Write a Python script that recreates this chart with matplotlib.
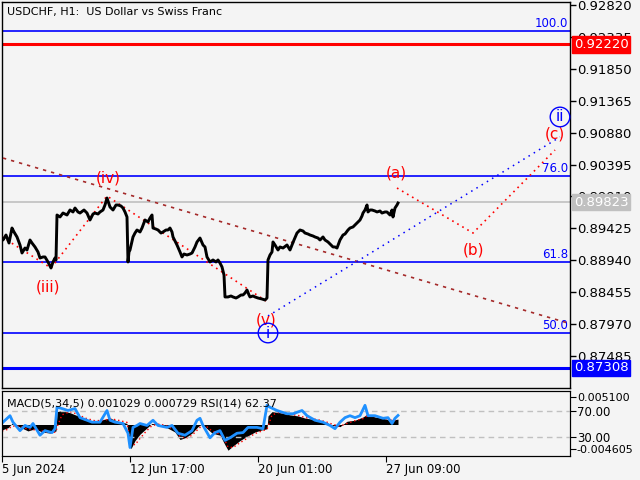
import matplotlib.pyplot as plt
import matplotlib.transforms as mtransforms

# H1 closes of USDCHF (hours from chart start, price)
hours = [2, 3, 6, 9, 12, 14, 17, 20, 22, 25, 27, 30, 32, 35, 38, 40, 43, 45, 48, 51,
         53, 55, 56, 57, 60, 63, 67, 70, 73, 75, 78, 80, 84, 87, 90, 93, 95, 98, 100, 103,
         105, 107, 110, 113, 116, 118, 121, 123, 125, 127, 128, 129, 130, 133, 135, 137, 140, 142, 145, 148,
         150, 152, 153, 156, 158, 161, 163, 166, 168, 170, 172, 173, 175, 177, 180, 182, 184, 187, 190, 192,
         195, 197, 200, 203, 205, 207, 210, 213, 216, 218, 220, 222, 224, 225, 228, 231, 233, 236, 238, 241,
         243, 245, 247, 249, 250, 253, 255, 258, 262, 265, 267, 268, 270, 272, 273, 275, 278, 280, 283, 287,
         290, 292, 294, 297, 300, 303, 305, 308, 310, 313, 315, 318, 320, 323, 325, 328, 331, 333, 335, 337,
         340, 343, 345, 348, 350, 353, 355, 357, 360, 362, 363, 365, 367, 368, 370, 372, 375, 377, 380, 382,
         385, 387, 390, 392, 393, 395, 397, 398]
close = [0.89278, 0.89248, 0.89324, 0.89202, 0.89430, 0.89370, 0.89294, 0.89172, 0.89050, 0.89126,
         0.89096, 0.89248, 0.89202, 0.89142, 0.89066, 0.88974, 0.88990, 0.88990, 0.88914, 0.88822,
         0.88914, 0.88974, 0.88944, 0.89628, 0.89598, 0.89658, 0.89628, 0.89704, 0.89674, 0.89734,
         0.89674, 0.89658, 0.89704, 0.89658, 0.89552, 0.89643, 0.89658, 0.89643, 0.89674, 0.89704,
         0.89780, 0.89886, 0.89750, 0.89704, 0.89780, 0.89780, 0.89765, 0.89734, 0.89674, 0.89598,
         0.88914, 0.89066, 0.89096, 0.89294, 0.89354, 0.89400, 0.89370, 0.89430, 0.89552, 0.89522,
         0.89582, 0.89628, 0.89430, 0.89414, 0.89400, 0.89354, 0.89370, 0.89400, 0.89400, 0.89430,
         0.89370, 0.89294, 0.89233, 0.89172, 0.89066, 0.88990, 0.89035, 0.89020, 0.89035, 0.89050,
         0.89142, 0.89218, 0.89278, 0.89172, 0.89142, 0.88990, 0.88914, 0.88944, 0.88914, 0.88944,
         0.88898, 0.88838, 0.88716, 0.88382, 0.88382, 0.88397, 0.88382, 0.88366, 0.88382, 0.88412,
         0.88412, 0.88442, 0.88488, 0.88412, 0.88382, 0.88397, 0.88382, 0.88366, 0.88351, 0.88336,
         0.88366, 0.88944, 0.89020, 0.89066, 0.89218, 0.89172, 0.89096, 0.89142, 0.89126, 0.89172,
         0.89096, 0.89172, 0.89248, 0.89354, 0.89400, 0.89385, 0.89354, 0.89339, 0.89324, 0.89309,
         0.89294, 0.89278, 0.89248, 0.89294, 0.89248, 0.89218, 0.89172, 0.89142, 0.89142, 0.89126,
         0.89248, 0.89324, 0.89339, 0.89400, 0.89430, 0.89446, 0.89476, 0.89506, 0.89552, 0.89613,
         0.89658, 0.89704, 0.89780, 0.89674, 0.89704, 0.89704, 0.89689, 0.89674, 0.89689, 0.89658,
         0.89674, 0.89674, 0.89628, 0.89704, 0.89598, 0.89734, 0.89780, 0.89810]

price_ticks = [0.92820, 0.92335, 0.91850, 0.91365, 0.90880, 0.90395,
               0.89910, 0.89425, 0.88940, 0.88455, 0.87970, 0.87485]

fib_levels = [0.92425, 0.90221, 0.88914, 0.87834]
fib_names = ['100.0', '76.0', '61.8', '50.0']
resistance = 0.92220
support = 0.87308
last_price = 0.89823

trend_hours = [3, 568]
trend_prices = [0.90494, 0.87986]
wave_hours = [2, 51, 107, 266]
wave_prices = [0.89294, 0.88822, 0.89917, 0.88321]
abc_hours = [397, 473, 555]
abc_prices = [0.90038, 0.89354, 0.90616]
ii_hours = [268, 560]
ii_prices = [0.88093, 0.90814]

wave_labels = ['(iii)', '(iv)', '(v)', '(a)', '(b)', '(c)']
wave_label_hours = [48, 108, 266, 396, 473, 555]
wave_label_prices = [0.88534, 0.90190, 0.88032, 0.90266, 0.89096, 0.90859]
circle_labels = ['i', 'ii']
circle_hours = [268, 560]
circle_prices = [0.87834, 0.91118]

# MACD(5,34,5) histogram + signal, RSI(14)
macd_hours = [2, 8, 12, 20, 28, 35, 42, 50, 56, 57, 62, 70, 78, 85, 95, 105, 110, 118, 127, 128,
              131, 135, 140, 146, 152, 160, 167, 175, 180, 186, 192, 198, 202, 206, 212, 220, 225, 228, 233, 240,
              247, 255, 262, 267, 268, 272, 280, 290, 298, 305, 312, 320, 326, 333, 340, 347, 355, 363, 367, 375,
              382, 390, 398]
macd_hist = [-0.0010, -0.0006, 0.0002, -0.0005, -0.0012, -0.0008, -0.0014, -0.0016, -0.0012, 0.0024,
             0.0026, 0.0022, 0.0016, 0.0008, 0.0006, 0.0010, 0.0012, 0.0006, 0.0002, -0.0030,
             -0.0045, -0.0030, -0.0018, -0.0008, 0.0002, 0.0000, -0.0006, -0.0014, -0.0028, -0.0024,
             -0.0016, -0.0004, 0.0001, -0.0006, -0.0016, -0.0020, -0.0038, -0.0048, -0.0040, -0.0030,
             -0.0022, -0.0014, -0.0010, -0.0008, 0.0016, 0.0024, 0.0022, 0.0018, 0.0016, 0.0012,
             0.0010, 0.0006, 0.0004, -0.0002, -0.0004, 0.0006, 0.0008, 0.0014, 0.0019, 0.0014,
             0.0012, 0.0008, 0.0010]
macd_signal = [-0.0012, -0.0009, -0.0003, -0.0003, -0.0009, -0.0010, -0.0012, -0.0015, -0.0014, -0.0005,
               0.0018, 0.0024, 0.0019, 0.0012, 0.0007, 0.0008, 0.0011, 0.0008, 0.0004, -0.0008,
               -0.0035, -0.0038, -0.0026, -0.0013, -0.0002, 0.0001, -0.0003, -0.0010, -0.0022, -0.0026,
               -0.0020, -0.0009, -0.0002, -0.0003, -0.0012, -0.0018, -0.0030, -0.0042, -0.0043, -0.0034,
               -0.0026, -0.0017, -0.0012, -0.0009, -0.0004, 0.0018, 0.0023, 0.0019, 0.0017, 0.0013,
               0.0011, 0.0008, 0.0005, 0.0000, -0.0003, 0.0002, 0.0007, 0.0011, 0.0016, 0.0015,
               0.0013, 0.0009, 0.0007]
rsi_hours = [3, 10, 13, 20, 25, 30, 33, 40, 45, 52, 55, 57, 62, 68, 75, 80, 87, 92, 100, 107,
             110, 115, 123, 128, 130, 133, 137, 140, 147, 153, 158, 167, 172, 178, 185, 192, 197, 200, 203, 210,
             215, 220, 225, 230, 237, 243, 248, 257, 263, 267, 270, 277, 287, 293, 302, 307, 315, 323, 330, 335,
             340, 345, 350, 355, 360, 365, 368, 375, 383, 388, 392, 395, 398]
rsi = [52, 62, 52, 39, 47, 44, 50, 32, 39, 36, 42, 75, 73, 70, 73, 59, 55, 52, 52, 70,
       55, 52, 50, 35, 13, 44, 47, 50, 47, 55, 47, 44, 47, 35, 32, 39, 55, 58, 47, 28,
       36, 39, 24, 28, 35, 36, 44, 44, 42, 78, 75, 70, 65, 65, 70, 62, 55, 52, 47, 42,
       52, 59, 62, 59, 62, 78, 62, 62, 58, 59, 50, 58, 62.37]

date_ticks = [2, 130, 258, 386]
date_labels = ['5 Jun 2024', '12 Jun 17:00', '20 Jun 01:00', '27 Jun 09:00']

BG = '#f4f4f4'
FS = 9.5
plt.rcParams['font.family'] = ['DejaVu Sans']

fig = plt.figure(figsize=(6.4, 4.8), dpi=100, facecolor=BG)
ax = fig.add_axes([2 / 640, 92 / 480, 568 / 640, 386 / 480], facecolor=BG)
ax.set_xlim(2, 570)
ax.set_ylim(0.86998, 0.92866)

for p, name in zip(fib_levels, fib_names):
    ax.axhline(p, color='#0000ff', lw=1.2, zorder=2)
    ax.text(568, p + 0.0002, name, color='#0000ff', fontsize=8.5, ha='right', va='bottom')
ax.axhline(resistance, color='#ff0000', lw=2.2, zorder=2)
ax.axhline(support, color='#0000ff', lw=2.2, zorder=2)
ax.axhline(last_price, color='#c0c0c0', lw=1.2, zorder=2)

ax.plot(trend_hours, trend_prices, color='#a52a2a', lw=1.2, ls=(0, (2, 3)), zorder=3)
ax.plot(wave_hours, wave_prices, color='#ff0000', lw=1.2, ls=(0, (1, 2.5)), zorder=3)
ax.plot(abc_hours, abc_prices, color='#ff0000', lw=1.2, ls=(0, (1, 2.5)), zorder=3)
ax.plot(ii_hours, ii_prices, color='#0000ff', lw=1.1, ls=(0, (1, 3)), zorder=3)
ax.plot(hours, close, color='black', lw=2.1, zorder=4)

for lab, h, p in zip(wave_labels, wave_label_hours, wave_label_prices):
    ax.text(h, p, lab, color='#ff0000', fontsize=11, ha='center', va='center', zorder=5)
for lab, h, p in zip(circle_labels, circle_hours, circle_prices):
    ax.text(h, p, lab, color='#0000ff', fontsize=11, ha='center', va='center', zorder=5,
            bbox=dict(boxstyle='circle,pad=0.15', fc='none', ec='#0000ff', lw=1))

ax.text(0.008, 0.974, 'USDCHF, H1:  US Dollar vs Swiss Franc', transform=ax.transAxes,
        fontsize=8, ha='left', va='center')

ax.yaxis.tick_right()
ax.set_yticks(price_ticks, [f'{t:.5f}' for t in price_ticks])
ax.tick_params(axis='y', direction='out', length=4, width=1, pad=1, labelsize=FS)
ax.set_xticks([])
for s in ax.spines.values():
    s.set_linewidth(1)

# price tags on the right scale
tr = mtransforms.blended_transform_factory(ax.transAxes, ax.transData)
for p, col in [(resistance, '#ff0000'), (last_price, '#c0c0c0'), (support, '#0000ff')]:
    ax.text(1.0 + 4 / 568, p, f'{p:.5f}', transform=tr, color='white', fontsize=FS,
            ha='left', va='center', clip_on=False, zorder=10,
            bbox=dict(boxstyle='square,pad=0.12', fc=col, ec=col))

# indicator panel
pax = fig.add_axes([2 / 640, 24 / 480, 568 / 640, 65 / 480], facecolor=BG)
pax.set_xlim(2, 570)
pax.set_ylim(-0.005877, 0.00625)
pax.fill_between(macd_hours, 0, macd_hist, color='black', lw=0)
pax.plot(macd_hours, macd_signal, color='#ff0000', lw=1, ls=(0, (1, 2)))
pax.set_xticks(date_ticks, date_labels)
pax.tick_params(axis='x', direction='out', length=4, pad=1, labelsize=8.5)
for t in pax.get_xticklabels():
    t.set_ha('left')

rax = pax.twinx()
rax.set_xlim(2, 570)
rax.set_ylim(0, 100)
rax.axhline(70, color='#c0c0c0', lw=1, ls=(0, (4, 3)))
rax.axhline(30, color='#c0c0c0', lw=1, ls=(0, (4, 3)))
rax.plot(rsi_hours, rsi, color='#1e90ff', lw=2)
rax.set_yticks([70, 30], ['70.00', '30.00'])
rax.tick_params(axis='y', direction='out', length=4, pad=1, labelsize=8.5)
rax.text(0.008, 0.8, 'MACD(5,34,5) 0.001029 0.000729 RSI(14) 62.37', transform=rax.transAxes,
         fontsize=8, ha='left', va='center')

# twinx moves the original ticks to the left, put them back on the right
pax.yaxis.tick_right()
pax.set_yticks([0.0051, -0.004605], ['0.005100', '-0.004605'])
pax.tick_params(axis='y', direction='out', length=4, pad=1, labelsize=8)

fig.savefig('out.png', dpi=100, facecolor=BG)
